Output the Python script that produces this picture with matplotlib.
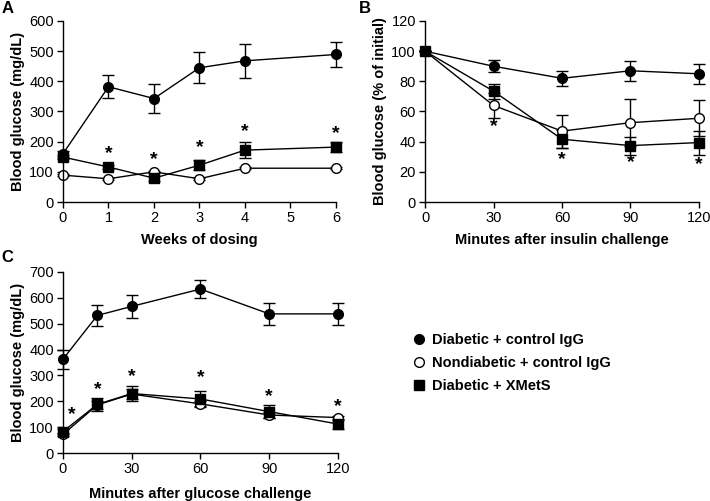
import matplotlib
matplotlib.use("Agg")
import matplotlib.pyplot as plt
from matplotlib.lines import Line2D

plt.rcParams['font.family'] = ['Liberation Sans', 'DejaVu Sans']
plt.rcParams['font.size'] = 10.5

# Panel A: weeks of dosing
weeks = [0, 1, 2, 3, 4, 6]
a_diab = [160, 382, 343, 445, 468, 489]
a_diab_err = [10, 38, 48, 51, 57, 40]
a_nondiab = [89, 77, 100, 77, 112, 112]
a_nondiab_err = [4, 4, 4, 4, 4, 4]
a_xmets = [149, 116, 79, 122, 172, 182]
a_xmets_err = [8, 8, 8, 17, 27, 17]
a_stars_x = [1, 2, 3, 4, 6]
a_stars_y = [162, 140, 180, 233, 228]

# Panel B: insulin challenge (% of initial)
b_min = [0, 30, 60, 90, 120]
b_diab = [100, 90, 82, 87, 85]
b_diab_err = [0, 4, 5, 6.5, 6.5]
b_nondiab = [100, 64, 47, 52.6, 55.5]
b_nondiab_err = [0, 8, 11, 15.5, 12]
b_xmets = [100, 73.5, 41.6, 37.4, 39.4]
b_xmets_err = [0, 5, 6, 6, 8]
b_stars_x = [30, 60, 90, 120]
b_stars_y = [50, 28, 26, 25]

# Panel C: glucose challenge
c_min = [0, 15, 30, 60, 90, 120]
c_diab = [363, 532, 567, 634, 538, 538]
c_diab_err = [37, 40, 43, 34, 44, 44]
c_nondiab = [72, 186, 228, 190, 147, 137]
c_nondiab_err = [5, 15, 20, 10, 10, 8]
c_xmets = [83, 188, 230, 209, 160, 112]
c_xmets_err = [10, 25, 30, 30, 25, 20]
c_stars_x = [4, 15, 30, 60, 90, 120]
c_stars_y = [150, 247, 296, 293, 218, 180]

labels = ["Diabetic + control IgG", "Nondiabetic + control IgG", "Diabetic + XMetS"]

fig = plt.figure(figsize=(7.10, 5.01), dpi=100)


def style_axis(ax):
    ax.spines['top'].set_visible(False)
    ax.spines['right'].set_visible(False)
    for s in ['left', 'bottom']:
        ax.spines[s].set_linewidth(1.0)
    ax.tick_params(direction='out', length=4, width=1.0, labelsize=10.5, pad=2.5)


def draw_series(ax, x, y, err, marker, face, ms):
    ax.errorbar(x, y, yerr=err, color='black', marker=marker, markersize=ms,
                markerfacecolor=face, markeredgecolor='black', markeredgewidth=1.0,
                linewidth=1.0, elinewidth=1.0, capsize=4, capthick=1.0, clip_on=False)


def draw_panel(ax, x, diab, diab_err, nondiab, nondiab_err, xmets, xmets_err, sx, sy):
    draw_series(ax, x, diab, diab_err, 'o', 'black', 7)
    draw_series(ax, x, nondiab, nondiab_err, 'o', 'white', 7)
    draw_series(ax, x, xmets, xmets_err, 's', 'black', 6.5)
    for xi, yi in zip(sx, sy):
        ax.text(xi, yi, '*', ha='center', va='center', fontsize=14, fontweight='bold')
    style_axis(ax)


axA = fig.add_axes([0.0887, 0.5968, 0.3845, 0.3613])
draw_panel(axA, weeks, a_diab, a_diab_err, a_nondiab, a_nondiab_err,
           a_xmets, a_xmets_err, a_stars_x, a_stars_y)
axA.set_xlim(0, 6)
axA.set_ylim(0, 600)
axA.set_xticks([0, 1, 2, 3, 4, 5, 6])
axA.set_yticks(range(0, 601, 100))
axA.set_xlabel("Weeks of dosing", fontweight='bold', labelpad=6)
axA.set_ylabel("Blood glucose (mg/dL)", fontweight='bold', labelpad=3)

axB = fig.add_axes([0.5986, 0.5968, 0.3859, 0.3613])
draw_panel(axB, b_min, b_diab, b_diab_err, b_nondiab, b_nondiab_err,
           b_xmets, b_xmets_err, b_stars_x, b_stars_y)
axB.set_xlim(0, 120)
axB.set_ylim(0, 120)
axB.set_xticks([0, 30, 60, 90, 120])
axB.set_yticks(range(0, 121, 20))
axB.set_xlabel("Minutes after insulin challenge", fontweight='bold', labelpad=6)
axB.set_ylabel("Blood glucose (% of initial)", fontweight='bold', labelpad=3)

axC = fig.add_axes([0.0887, 0.0958, 0.3873, 0.3613])
draw_panel(axC, c_min, c_diab, c_diab_err, c_nondiab, c_nondiab_err,
           c_xmets, c_xmets_err, c_stars_x, c_stars_y)
axC.set_xlim(0, 120)
axC.set_ylim(0, 700)
axC.set_xticks([0, 30, 60, 90, 120])
axC.set_yticks(range(0, 701, 100))
axC.set_xlabel("Minutes after glucose challenge", fontweight='bold', labelpad=8)
axC.set_ylabel("Blood glucose (mg/dL)", fontweight='bold', labelpad=3)

fig.text(0.002, 0.998, "A", fontsize=12, fontweight='bold', va='top', ha='left')
fig.text(0.505, 0.998, "B", fontsize=12, fontweight='bold', va='top', ha='left')
fig.text(0.002, 0.500, "C", fontsize=12, fontweight='bold', va='top', ha='left')

handles = [
    Line2D([], [], linestyle='none', marker='o', markersize=7, markerfacecolor='black', markeredgecolor='black'),
    Line2D([], [], linestyle='none', marker='o', markersize=7, markerfacecolor='white', markeredgecolor='black'),
    Line2D([], [], linestyle='none', marker='s', markersize=6.5, markerfacecolor='black', markeredgecolor='black'),
]
leg = fig.legend(handles, labels, loc='center left', bbox_to_anchor=(0.561, 0.2754),
                 frameon=False, handlelength=1.0, handletextpad=0.4, labelspacing=0.62,
                 prop={'weight': 'bold', 'size': 10.5})

fig.savefig("out.png", dpi=100)
